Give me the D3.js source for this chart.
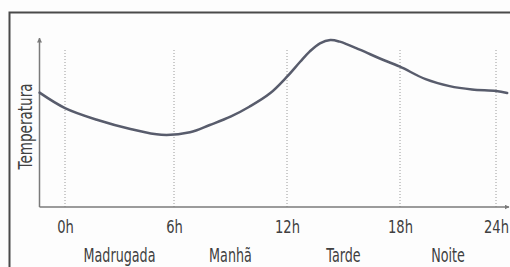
<!DOCTYPE html>
<html>
<head>
<meta charset="utf-8">
<script src="https://cdn.jsdelivr.net/npm/d3@7"></script>
<style>
  body { margin: 0; background: #fdfdfd; }
  svg { display: block; }
  text { font-family: "DejaVu Sans", sans-serif; fill: #404040; }
</style>
</head>
<body>
<div id="chart"></div>
<script>
/**
 * DATA
 * */
// hours of the day (x) and a relative temperature (0-100, no unit on the chart)
const hours = [-1.4, 0, 1.8, 3.6, 5.3, 6.85, 7.9, 9.0, 10.0, 11.1, 12, 12.7, 13.2, 13.75, 14.3, 14.8, 15.9, 16.9, 18, 19.6, 21.1, 22.5, 24, 24.7];
const temps = [68.9, 59.6, 52.4, 47.0, 43.5, 45.0, 49.4, 54.4, 60.4, 68.5, 78.5, 87.5, 93.6, 98.6, 100.6, 99.6, 94.6, 89.6, 84.5, 77.0, 72.8, 70.8, 69.9, 68.7];

const tickHours = [0, 6, 12, 18, 24];
const tickLabels = ["0h", "6h", "12h", "18h", "24h"];
const periods = ["Madrugada", "Manhã", "Tarde", "Noite"];
const periodHours = [3, 9, 15, 21];
const yLabel = "Temperatura";

/**
 * CONSTANTS
 * */
const width = 510,
  height = 267,
  axisY = 207,
  axisX = 39.5;

const svg = d3.select("#chart")
  .append("svg")
  .attr("width", width)
  .attr("height", height);

// the print uses a condensed face: measure the local font and squeeze it
function squeeze(txt, size, target) {
  const probe = svg.append("text").attr("font-size", size).text(txt);
  const w = probe.node().getBBox().width;
  probe.remove();
  return target / w;
}
const tickNarrow = squeeze("12h", 17, 25);
const periodNarrow = squeeze("Madrugada", 19.5, 72);
const labelNarrow = squeeze(yLabel, 20, 87);

// the printed graphic is not evenly spaced, so a piecewise scale
const x = d3.scaleLinear()
  .domain(tickHours)
  .range([65, 174, 287, 400, 496]);

const y = d3.scaleLinear()
  .domain([0, 100])
  .range([axisY, 41]);

// frame of the textbook box
svg.append("path")
  .attr("d", `M9.5,${height} V12.5 H${width}`)
  .attr("fill", "none")
  .attr("stroke", "#4a4a4a")
  .attr("stroke-width", 2);

// dotted hour lines
svg.selectAll("line.grid")
  .data(tickHours)
  .join("line")
  .attr("class", "grid")
  .attr("x1", d => x(d))
  .attr("x2", d => x(d))
  .attr("y1", 50)
  .attr("y2", axisY)
  .attr("stroke", "#9a9a9a")
  .attr("stroke-width", 1)
  .attr("stroke-dasharray", "1,2");

// arrow marker for the axes
svg.append("defs").append("marker")
  .attr("id", "arrow")
  .attr("viewBox", "0 0 10 10")
  .attr("refX", 9)
  .attr("refY", 5)
  .attr("markerWidth", 5)
  .attr("markerHeight", 5)
  .attr("markerUnits", "userSpaceOnUse")
  .attr("orient", "auto")
  .append("path")
  .attr("d", "M0,0 L10,5 L0,10 z")
  .attr("fill", "#7a7a7a");

svg.append("line")
  .attr("x1", axisX).attr("x2", axisX)
  .attr("y1", axisY).attr("y2", 38)
  .attr("stroke", "#7a7a7a")
  .attr("stroke-width", 1.5)
  .attr("marker-end", "url(#arrow)");

svg.append("line")
  .attr("x1", axisX).attr("x2", 509)
  .attr("y1", axisY).attr("y2", axisY)
  .attr("stroke", "#7a7a7a")
  .attr("stroke-width", 1.5)
  .attr("marker-end", "url(#arrow)");

// tick labels
const xAxis = d3.axisBottom(x)
  .tickValues(tickHours)
  .tickFormat((d, i) => tickLabels[i])
  .tickSize(0);

const gx = svg.append("g")
  .attr("transform", `translate(0,${axisY})`)
  .call(xAxis)
  .attr("font-family", null)
  .attr("font-size", null);
gx.select(".domain").remove();
gx.selectAll("text")
  .attr("y", 26)
  .attr("dy", 0)
  .attr("font-size", 17)
  .attr("fill", "#404040")
  .attr("transform", `scale(${tickNarrow},1)`);

// period names
svg.selectAll("text.period")
  .data(periods)
  .join("text")
  .attr("class", "period")
  .attr("transform", (d, i) => `translate(${x(periodHours[i])},261.5) scale(${periodNarrow},1)`)
  .attr("text-anchor", "middle")
  .attr("font-size", 19.5)
  .text(d => d);

// y label
svg.append("text")
  .attr("transform", `translate(32,126.5) rotate(-90) scale(${labelNarrow},1)`)
  .attr("text-anchor", "middle")
  .attr("font-size", 20)
  .text(yLabel);

// temperature curve
const line = d3.line()
  .x((d, i) => x(hours[i]))
  .y(d => y(d))
  .curve(d3.curveCatmullRom.alpha(0.5));

svg.append("path")
  .datum(temps)
  .attr("d", line)
  .attr("fill", "none")
  .attr("stroke", "#585c6c")
  .attr("stroke-width", 2.5)
  .attr("stroke-linecap", "round");
</script>
</body>
</html>
